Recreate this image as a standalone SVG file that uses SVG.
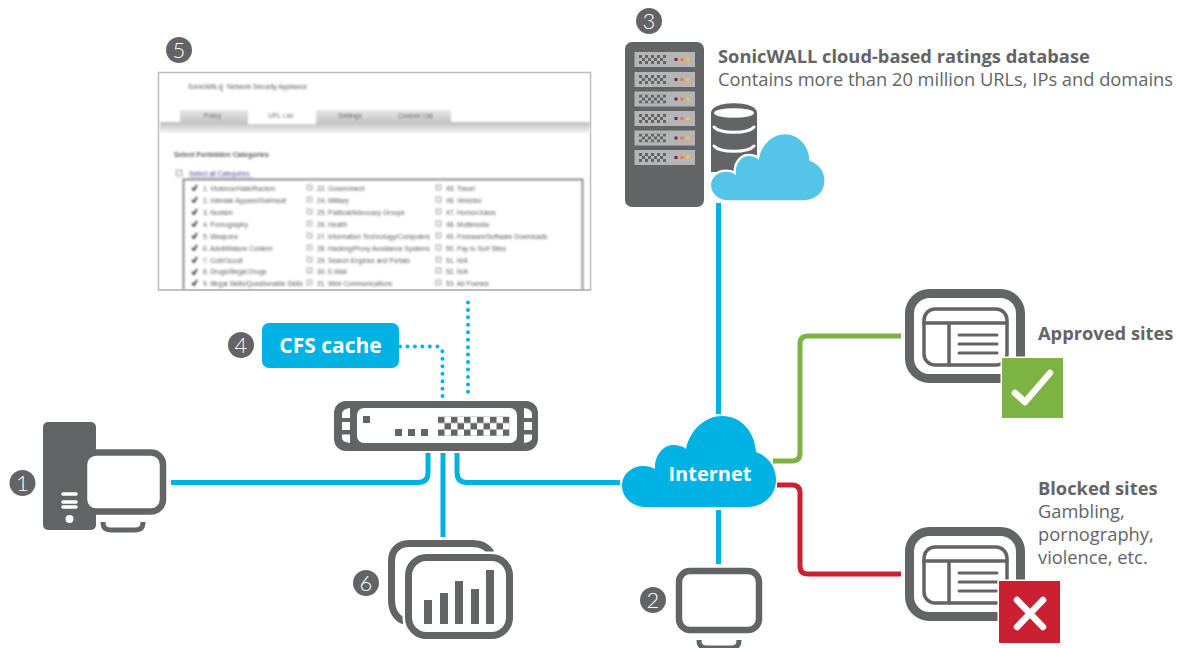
<svg xmlns="http://www.w3.org/2000/svg" width="1182" height="648" viewBox="0 0 1182 648">
<style>
text{font-family:"Open Sans","Noto Sans","Liberation Sans",sans-serif;fill:#636466}
.b{font-weight:700;font-size:18.300px}
.r{font-size:18.300px}
.w{fill:#fff;font-weight:700;font-size:21px}
.num{font-family:"Lato","Open Sans",sans-serif;fill:#fff;font-size:22px;font-weight:300;text-anchor:middle}
.badge{fill:#636466}
.g{fill:#636466}
.ol{fill:#fff;stroke:#636466}
.conn{fill:none;stroke:#00b2e3;stroke-width:5}
.dot{fill:none;stroke:#00b2e3;stroke-width:4;stroke-linecap:round;stroke-dasharray:0 7.450}
.ln{stroke:#636466;fill:none;stroke-linecap:round}
.ss text{font-family:"Liberation Sans",sans-serif;font-size:6.600px;fill:#5a5a5a}
.cb{fill:#eee;stroke:#aaa;stroke-width:1}
</style>
<defs>
<filter id="soft" x="-5%" y="-5%" width="110%" height="110%"><feGaussianBlur stdDeviation="0.8"/></filter>
<linearGradient id="band" x1="0" y1="0" x2="0" y2="1"><stop offset="0" stop-color="#bdbdbd"/><stop offset="1" stop-color="#f4f4f4"/></linearGradient>
<linearGradient id="tab" x1="0" y1="0" x2="0" y2="1"><stop offset="0" stop-color="#e6e6e6"/><stop offset="1" stop-color="#c4c4c4"/></linearGradient>
<pattern id="chk" width="6" height="6" patternUnits="userSpaceOnUse"><rect width="3" height="3" fill="#636466"/><rect x="3" y="3" width="3" height="3" fill="#636466"/></pattern>
<pattern id="chk2" width="13" height="13" patternUnits="userSpaceOnUse"><rect width="6.500" height="6.500" fill="#636466"/><rect x="6.500" y="6.500" width="6.500" height="6.500" fill="#636466"/></pattern>
<path id="cloud" d="M646 507C632 507 622 497 622 486C622 473 633 466 643 466C648 466 652 467 655 469C654 455 664 445 673 445C678 445 683 446 686 449C690 429 706 416 722 416C741 416 755 432 756 452C768 456 776 467 776 480C776 496 763 507 747 507Z"/>
<g id="slot">
<rect x="0" y="0" width="60.500" height="15" fill="#b5b5b5"/>
<g transform="translate(4.500 3)"><rect width="27" height="9" fill="url(#chk)"/></g>
<rect x="40" y="6" width="3" height="3" fill="#7b1f5a"/><rect x="46" y="6" width="3" height="3" fill="#f47b20"/><rect x="52" y="6" width="3" height="3" fill="#fcc43a"/>
</g>
<g id="page">
<rect x="909.500" y="293.500" width="111" height="85" rx="20" fill="#fff" stroke="#636466" stroke-width="9"/>
<rect x="924" y="309" width="83" height="56" rx="11" fill="#fff" stroke="#636466" stroke-width="3.500"/>
<path class="ln" stroke-width="3.500" d="M924 323H1007M949 323V365"/>
<path class="ln" stroke-width="3" d="M959 335H997M959 344H997M959 353H997"/>
</g>
<path id="stand" d="M0 0C0 6 3 8 8 8H32C37 8 40 6 40 0" fill="none" stroke="#636466" stroke-width="5"/>
</defs>

<g id="connectors">
<path class="conn" d="M718.500 203V414"/>
<path class="conn" d="M718.500 510V564"/>
<path class="conn" d="M171 482.500H418Q428 482.500 428 472.500V453"/>
<path class="conn" d="M443 453V537"/>
<path class="conn" d="M457 453V472.500Q457 482.500 467 482.500H620"/>
<path class="dot" d="M400 346.500H436Q442.500 346.500 442.500 353V397"/>
<path class="dot" d="M468 295V397"/>
<path d="M773 461H792Q800 461 800 453V344Q800 336 808 336H901" fill="none" stroke="#7cb342" stroke-width="5"/>
<path d="M777 485H792Q800 485 800 493V566Q800 574 808 574H901" fill="none" stroke="#cb2032" stroke-width="5"/>
</g>

<g id="node-pc">
<rect x="43" y="422" width="53" height="108" rx="5" class="g"/>
<path d="M63 494H76M63 502H76M63 507H76" stroke="#fff" stroke-width="3.500" stroke-linecap="round"/>
<circle cx="69.500" cy="519" r="4" fill="#fff"/>
<rect x="84" y="452.500" width="79" height="59" rx="12" class="ol" stroke-width="6.500"/>
<use href="#stand" x="103" y="522"/>
<circle class="badge" cx="22.500" cy="483" r="13"/><text class="num" x="22.500" y="491">1</text>
</g>

<g id="node-internet-user">
<rect x="679" y="571" width="80" height="59" rx="11" class="ol" stroke-width="6.500"/>
<use href="#stand" x="699" y="640"/>
<circle class="badge" cx="653" cy="600" r="13"/><text class="num" x="653" y="608">2</text>
</g>

<g id="node-database">
<rect x="625" y="42" width="79" height="165" rx="7" class="g"/>
<use href="#slot" x="634.500" y="52"/><use href="#slot" x="634.500" y="72"/><use href="#slot" x="634.500" y="91.500"/><use href="#slot" x="634.500" y="111"/><use href="#slot" x="634.500" y="130.500"/><use href="#slot" x="634.500" y="150"/>
<circle class="badge" cx="649" cy="21" r="13"/><text class="num" x="649" y="29">3</text>
<path class="g" d="M711 113C711 100 757 100 757 113V172H711Z"/>
<ellipse cx="734" cy="113" rx="20" ry="4.800" fill="#fff"/>
<path d="M714 127C720 134 748 134 754 127M714 146C720 153 748 153 754 146" fill="none" stroke="#fff" stroke-width="3" stroke-linecap="round"/>
<use href="#cloud" transform="translate(243.500 -179) scale(.75)" fill="#54c5e8" stroke="#fff" stroke-width="3"/>
<text class="b" x="718" y="63">SonicWALL cloud-based ratings database</text>
<text class="r" x="718" y="86">Contains more than 20 million URLs, IPs and domains</text>
</g>

<g id="node-cfs-cache">
<rect x="262" y="323" width="137" height="45" rx="7" fill="#00b2e3"/>
<text class="w" x="330.500" y="353" text-anchor="middle">CFS cache</text>
<circle class="badge" cx="241" cy="345" r="13"/><text class="num" x="241" y="353">4</text>
</g>

<g id="node-screenshot">
<circle class="badge" cx="179" cy="50" r="13"/><text class="num" x="179" y="58">5</text>
<rect x="158.500" y="72.500" width="432" height="217.500" fill="#fff" stroke="#bdbdbd" stroke-width="1.500"/>
<g class="ss" filter="url(#soft)">
<text x="188" y="89">SonicWALL</text><path d="M222 84V92" stroke="#777"/><text x="227" y="89">Network Security Appliance</text>
<rect x="160" y="122" width="430" height="11" fill="url(#band)"/>
<rect x="180" y="110" width="68" height="13" fill="url(#tab)"/><rect x="248" y="109" width="68" height="15" fill="#fff"/><rect x="316" y="110" width="67" height="13" fill="url(#tab)"/><rect x="383" y="110" width="68" height="13" fill="url(#tab)"/>
<text x="204" y="118">Policy</text><text x="268" y="118">URL List</text><text x="338" y="118">Settings</text><text x="398" y="118">Custom List</text>
<text x="174" y="157" font-weight="700" style="font-size:7px">Select Forbidden Categories</text>
<rect class="cb" x="176" y="170" width="6" height="6"/><text x="189" y="176" style="fill:#44449a">Select all Categories</text><path d="M189 177.500H253" stroke="#9999cc" stroke-width=".7"/>
<rect x="183.500" y="179.500" width="399" height="112" fill="none" stroke="#666" stroke-width="1.500"/>
<g>
<text x="203" y="191">1. Violence/Hate/Racism</text><text x="203" y="203">2. Intimate Apparel/Swimsuit</text><text x="203" y="215">3. Nudism</text><text x="203" y="227">4. Pornography</text><text x="203" y="239">5. Weapons</text><text x="203" y="251">6. Adult/Mature Content</text><text x="203" y="263">7. Cult/Occult</text><text x="203" y="274">8. Drugs/Illegal Drugs</text><text x="203" y="286">9. Illegal Skills/Questionable Skills</text>
<text x="317" y="191">22. Government</text><text x="317" y="203">24. Military</text><text x="317" y="215">25. Political/Advocacy Groups</text><text x="317" y="227">26. Health</text><text x="317" y="239">27. Information Technology/Computers</text><text x="317" y="251">28. Hacking/Proxy Avoidance Systems</text><text x="317" y="263">29. Search Engines and Portals</text><text x="317" y="274">30. E-Mail</text><text x="317" y="286">31. Web Communications</text>
<text x="446" y="191">45. Travel</text><text x="446" y="203">46. Vehicles</text><text x="446" y="215">47. Humor/Jokes</text><text x="446" y="227">48. Multimedia</text><text x="446" y="239">49. Freeware/Software Downloads</text><text x="446" y="251">50. Pay to Surf Sites</text><text x="446" y="263">51. N/A</text><text x="446" y="274">52. N/A</text><text x="446" y="286">53. Ad Frames</text>
</g>
<path d="M192 188l2 2 3-5M192 200l2 2 3-5M192 212l2 2 3-5M192 224l2 2 3-5M192 236l2 2 3-5M192 248l2 2 3-5M192 260l2 2 3-5M192 272l2 2 3-5M192 283l2 2 3-5" fill="none" stroke="#444" stroke-width="1.800"/>
<g>
<rect class="cb" x="307" y="185" width="5" height="5"/><rect class="cb" x="307" y="197" width="5" height="5"/><rect class="cb" x="307" y="209" width="5" height="5"/><rect class="cb" x="307" y="221" width="5" height="5"/><rect class="cb" x="307" y="233" width="5" height="5"/><rect class="cb" x="307" y="245" width="5" height="5"/><rect class="cb" x="307" y="257" width="5" height="5"/><rect class="cb" x="307" y="268" width="5" height="5"/><rect class="cb" x="307" y="280" width="5" height="5"/>
<rect class="cb" x="436" y="185" width="5" height="5"/><rect class="cb" x="436" y="197" width="5" height="5"/><rect class="cb" x="436" y="209" width="5" height="5"/><rect class="cb" x="436" y="221" width="5" height="5"/><rect class="cb" x="436" y="233" width="5" height="5"/><rect class="cb" x="436" y="245" width="5" height="5"/><rect class="cb" x="436" y="257" width="5" height="5"/><rect class="cb" x="436" y="268" width="5" height="5"/><rect class="cb" x="436" y="280" width="5" height="5"/>
</g>
</g>
<rect x="150" y="290.800" width="450" height="6" fill="#fff"/>
<path d="M158 290H591" stroke="#bdbdbd" stroke-width="1.500"/>
</g>

<g id="node-switch">
<rect x="334" y="401" width="204" height="50" rx="12" class="g"/>
<rect x="357" y="408" width="160" height="35" rx="7" fill="#fff"/>
<path fill="#fff" d="M350 408V418H342V414Q342 409 350 408ZM342 422H350V430H342ZM342 434.500H350V443Q342 442 342 438ZM524 408V418H532V414Q532 409 524 408ZM532 422H524V430H532ZM532 434.500H524V443Q532 442 532 438Z"/>
<rect x="363" y="416" width="7" height="7" class="g"/>
<rect x="395" y="429" width="7" height="7" class="g"/><rect x="408" y="429" width="7" height="7" class="g"/><rect x="421" y="429" width="7" height="7" class="g"/>
<g transform="translate(438 416.500)"><rect width="71.500" height="19.500" fill="url(#chk2)"/></g>
</g>

<g id="node-reports">
<path d="M491 553C487 546 480 543.500 472 543.500H409C398 543.500 391.500 551 391.500 561V600C391.500 610 396 618 404 621" fill="none" stroke="#636466" stroke-width="7"/>
<rect x="408.500" y="557.500" width="101" height="78" rx="18" fill="#fff" stroke="#fff" stroke-width="12"/>
<rect x="408.500" y="557.500" width="101" height="78" rx="18" class="ol" stroke-width="7"/>
<rect x="424" y="600" width="8" height="24" class="g"/><rect x="440" y="593" width="8" height="31" class="g"/><rect x="455" y="581" width="8" height="43" class="g"/><rect x="471" y="589" width="8" height="35" class="g"/><rect x="486" y="570" width="8" height="54" class="g"/>
<circle class="badge" cx="366" cy="583" r="13"/><text class="num" x="366" y="591">6</text>
</g>

<g id="node-internet">
<use href="#cloud" fill="#00b2e3"/>
<text class="w" x="710" y="481" text-anchor="middle" style="font-size:20px">Internet</text>
</g>

<g id="node-approved">
<use href="#page"/>
<rect x="1000.500" y="356.500" width="64" height="63" fill="#fff"/>
<rect x="1002" y="358" width="61" height="60" fill="#7cb342"/>
<path d="M1015 393L1025 402L1050 373" fill="none" stroke="#fff" stroke-width="6.500" stroke-linecap="round" stroke-linejoin="round"/>
<text class="b" x="1038" y="340">Approved sites</text>
</g>

<g id="node-blocked">
<use href="#page" y="238"/>
<rect x="997.500" y="579.500" width="64" height="65" fill="#fff"/>
<rect x="999" y="581" width="61" height="62" fill="#cb2032"/>
<path d="M1017 600L1043 627M1043 600L1017 627" fill="none" stroke="#fff" stroke-width="6.500" stroke-linecap="round"/>
<text class="b" x="1038" y="495">Blocked sites</text>
<text class="r" x="1038" y="518">Gambling,</text>
<text class="r" x="1038" y="541">pornography,</text>
<text class="r" x="1038" y="564">violence, etc.</text>
</g>
</svg>
